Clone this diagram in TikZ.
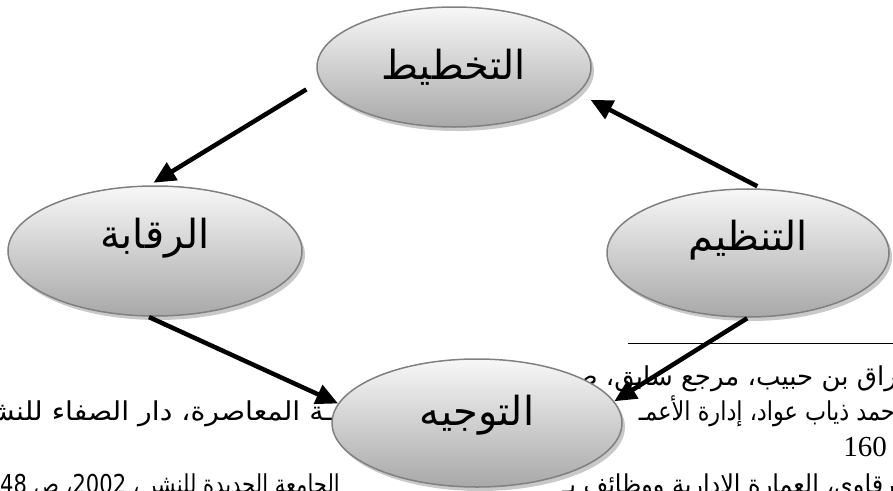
\documentclass[tikz,border=0pt]{standalone}
\usepackage{graphicx}
\usepackage{fontspec}
\setmainfont{Liberation Serif}
\newfontfamily\arabicfont[Script=Arabic]{DejaVu Sans}
\TeXXeTstate=1
\usetikzlibrary{arrows.meta,shapes.geometric,shadows}

% label with its baseline placed #1 below the node centre
\newcommand\stagelabel[2]{\raisebox{-#1}[0pt][0pt]{\beginR #2\endR}}
% footnote line, narrowed or widened horizontally to fit its run
\newcommand\fnline[2][1]{\scalebox{#1}[1]{\beginR #2\endR}}

\tikzset{
  stage/.style={ellipse, draw=black!50, line width=1.5pt,
    top color=black!3, bottom color=black!34,
    drop shadow={shadow xshift=3pt, shadow yshift=-4pt, fill=black!30, opacity=.7},
    inner sep=0pt, font=\arabicfont\fontsize{40}{48}\selectfont},
  flow/.style={line width=4.5pt, -{Triangle[length=22pt,width=20pt]}},
  fnote/.style={anchor=base east, inner sep=0pt, font=\arabicfont\fontsize{26}{30}\selectfont},
  fnum/.style={anchor=base east, inner sep=0pt, font=\fontsize{29}{34}\selectfont},
}

\begin{document}
\begin{tikzpicture}[x=1pt, y=-1pt]
\useasboundingbox (0,0) rectangle (893,490);
\clip (0,0) rectangle (893,490);

% footnote block behind the cycle
\coordinate (ruleL) at (628,343);
\coordinate (ruleR) at (893,343);
\draw[line width=1pt] (ruleL) -- (ruleR);
\node[fnote] (fn1) at (897,385) {\fnline{راق بن حبيب، مرجع سابق، صـ}};
\node[fnote] (fn2a) at (895,420) {\fnline[0.86]{حمد ذياب عواد، إدارة الأعمـ}};
\node[fnote] (fn2b) at (333,420) {\fnline[1.09]{ـة المعاصرة،  دار الصفاء للنشر}};
\node[fnum] (fn3) at (887,456) {160};
\node[fnote] (fn4a) at (895,493) {\fnline[0.92]{رقاوي، العمارة الإدارية ووظائف بـ}};
\node[fnote] (fn4b) at (340,493) {\fnline[0.81]{الجامعة الجديدة للنشر ، \beginL2002\endL، ص \beginL48\endL}};

% the four management functions
\node[stage, minimum width=274pt, minimum height=120pt] (plan) at (454,67)
  {\stagelabel{12pt}{التخطيط}};
\node[stage, minimum width=294pt, minimum height=130pt] (control) at (155,251)
  {\stagelabel{-3pt}{الرقابة}};
\node[stage, minimum width=282pt, minimum height=128pt] (organize) at (748,253)
  {\stagelabel{-3pt}{التنظيم}};
\node[stage, minimum width=290pt, minimum height=128pt] (direct) at (477,423)
  {\stagelabel{2pt}{التوجيه}};

% cycle arrows
\draw[flow, shorten <=16pt, shorten >=5pt] (plan.186) -- (control.95);
\draw[flow, shorten <=5pt, shorten >=14pt] (organize.78) -- (plan.-12);
\draw[flow, shorten <=1pt] (organize.270) -- (direct.9);
\draw[flow, shorten <=1pt] (control.264) -- (direct.172);
\end{tikzpicture}
\end{document}
